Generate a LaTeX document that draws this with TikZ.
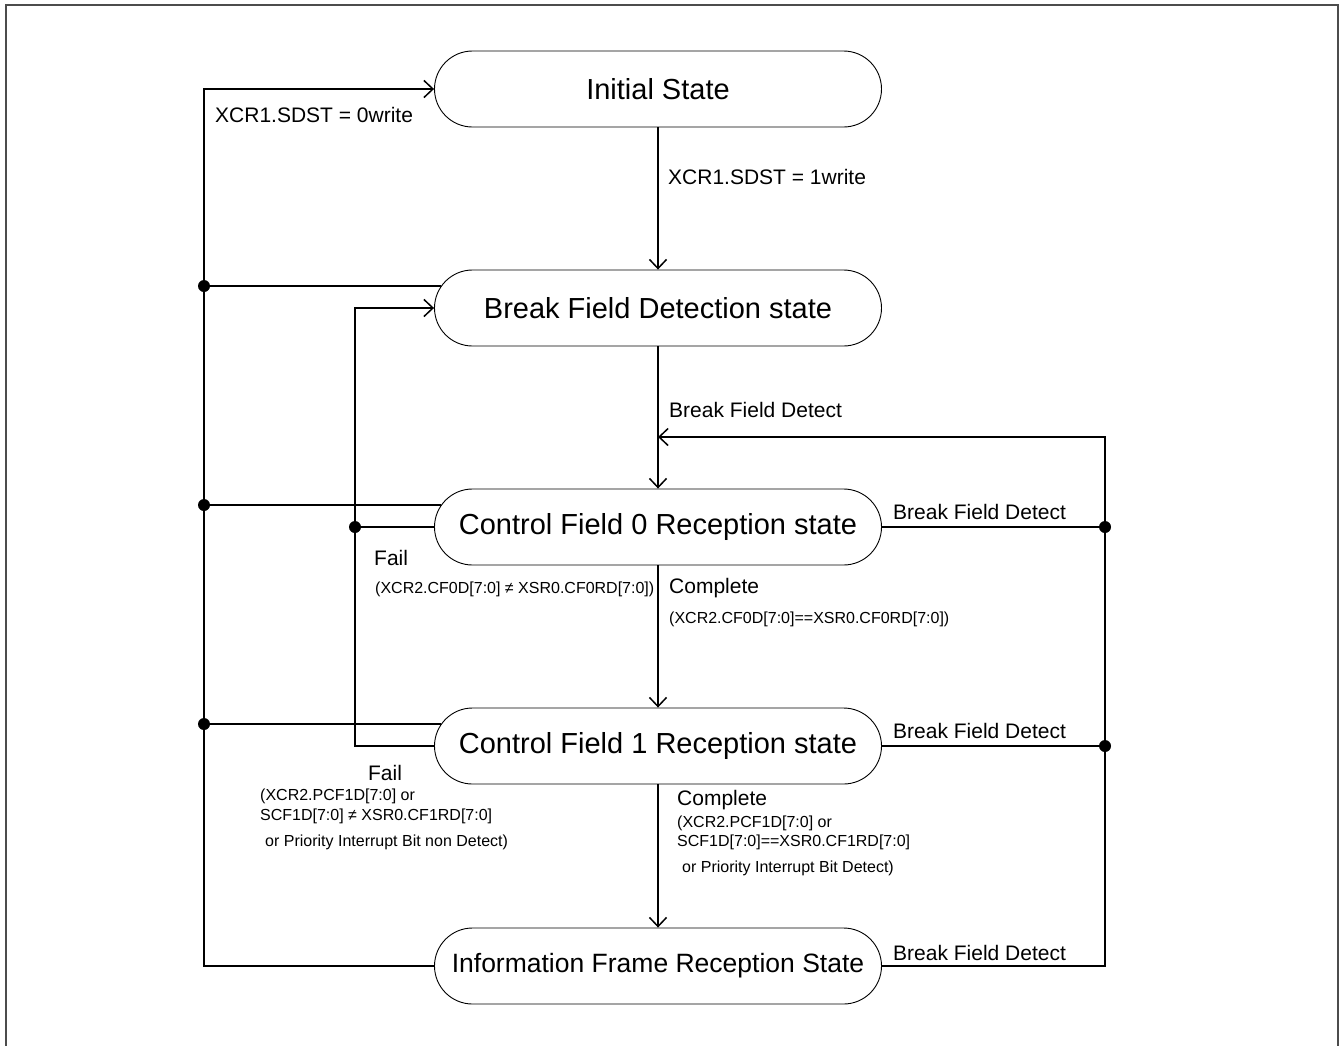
\documentclass[tikz,border=0pt]{standalone}
\usepackage{fontspec}
\setmainfont{Liberation Sans}
\usetikzlibrary{arrows.meta,calc}
\begin{document}
\begin{tikzpicture}[x=1pt,y=-1pt,
  state/.style={draw, line width=0.9pt, rounded corners=38pt, minimum width=447pt, minimum height=76pt, inner sep=0pt, font=\fontsize{29}{34}\selectfont},
  conn/.style={line width=2pt},
  arr/.style={conn, -{Straight Barb[length=9pt,width=17pt,line width=1.5pt]}},
  lbl/.style={anchor=west, inner sep=0pt, font=\fontsize{21}{25}\selectfont},
  slbl/.style={anchor=west, inner sep=0pt, font=\fontsize{16}{19}\selectfont}
]
\useasboundingbox (0,0) rectangle (1341,1045);
\draw[line width=2pt, black!70] (6,1050) -- (6,5) -- (1338,5) -- (1338,1050);

\node[state] (init) at (658,89) {Initial State};
\node[state] (bfd) at (658,308) {Break Field Detection state};
\node[state] (cf0) at (658,527) {Control Field 0 Reception state};
\node[state] (cf1) at (658,746) {Control Field 1 Reception state};
\node[state, font=\fontsize{26.5}{31}\selectfont] (ifr) at (658,966) {Information Frame Reception State};

\coordinate (lb0) at (204,89);
\coordinate (d1) at (204,286);
\coordinate (d2) at (204,505);
\coordinate (d3) at (204,724);
\coordinate (lb4) at (204,966);
\coordinate (il0) at (355,308);
\coordinate (d4) at (355,527);
\coordinate (il1) at (355,746);
\coordinate (rb0) at (1105,437);
\coordinate (r1) at (1105,527);
\coordinate (r2) at (1105,746);
\coordinate (rb3) at (1105,966);
\coordinate (jn) at (658,437);

% left bus to Initial State
\draw[arr] (ifr.west) -- (lb4) -- (lb0) -- (init.west);
\draw[conn] ($(bfd.west)+(7,-22)$) -- (d1);
\draw[conn] ($(cf0.west)+(7,-22)$) -- (d2);
\draw[conn] ($(cf1.west)+(7,-22)$) -- (d3);

% fail loop to Break Field Detection
\draw[arr] (cf1.west) -- (il1) -- (il0) -- (bfd.west);
\draw[conn] (cf0.west) -- (d4);

% main flow
\draw[arr] (init.south) -- (bfd.north);
\draw[arr] (bfd.south) -- (cf0.north);
\draw[arr] (cf0.south) -- (cf1.north);
\draw[arr] (cf1.south) -- (ifr.north);

% right bus
\draw[arr] (ifr.east) -- (rb3) -- (rb0) -- (jn);
\draw[conn] (cf0.east) -- (r1);
\draw[conn] (cf1.east) -- (r2);

% junction dots
\foreach \p in {d1,d2,d3,d4,r1,r2} \fill (\p) circle (6);

% labels
\node[lbl] (l1) at (215,115) {XCR1.SDST = 0write};
\node[lbl] (l2) at (668,177) {XCR1.SDST = 1write};
\node[lbl] (l3) at (669,410) {Break Field Detect};
\node[lbl] (l4) at (893,512) {Break Field Detect};
\node[lbl] (l5) at (893,731) {Break Field Detect};
\node[lbl] (l6) at (893,953) {Break Field Detect};
\node[lbl] (f0) at (374,558) {Fail};
\node[slbl] (f0c) at (375,589) {(XCR2.CF0D[7:0] ≠ XSR0.CF0RD[7:0])};
\node[lbl] (c0) at (669,588) {Complete};
\node[slbl] (c0c) at (669,619) {(XCR2.CF0D[7:0]==XSR0.CF0RD[7:0])};
\node[lbl, anchor=center] (f1) at (385,773) {Fail};
\node[slbl] (f1a) at (260,796) {(XCR2.PCF1D[7:0] or};
\node[slbl] (f1b) at (260,816) {SCF1D[7:0] ≠ XSR0.CF1RD[7:0]};
\node[slbl] (f1c) at (265,842) {or Priority Interrupt Bit non Detect)};
\node[lbl] (c1) at (677,800) {Complete};
\node[slbl] (c1a) at (677,823) {(XCR2.PCF1D[7:0] or};
\node[slbl] (c1b) at (677,842) {SCF1D[7:0]==XSR0.CF1RD[7:0]};
\node[slbl] (c1c) at (682,868) {or Priority Interrupt Bit Detect)};
\end{tikzpicture}
\end{document}
